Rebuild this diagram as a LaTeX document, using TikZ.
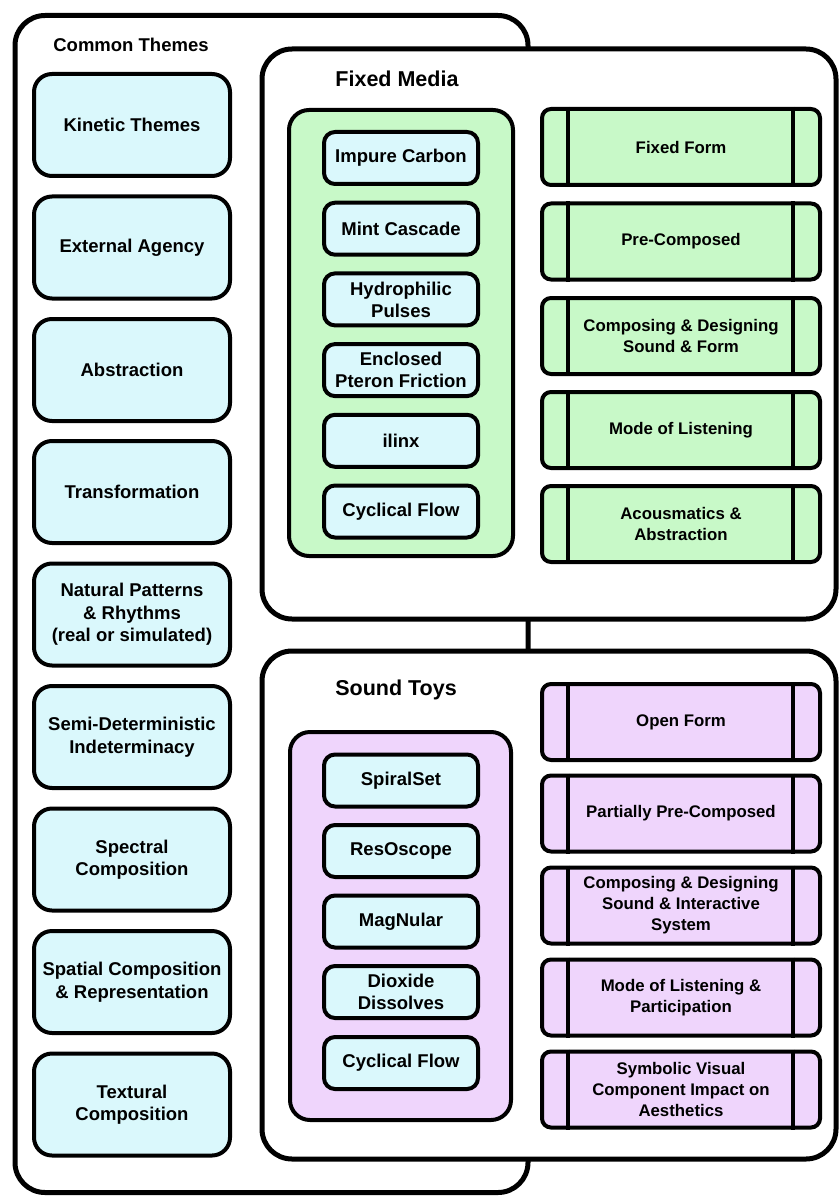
\documentclass[tikz,border=0pt]{standalone}
\usepackage{fontspec}
\setmainfont{Liberation Sans}
\definecolor{cyanfill}{HTML}{DAF8FC}
\definecolor{greenfill}{HTML}{C8F9C8}
\definecolor{purplefill}{HTML}{EFD5FC}
\tikzset{
  outerbox/.style={draw=black, fill=white, line width=5pt, rounded corners=30pt, inner sep=0pt},
  groupbox/.style={draw=black, line width=4pt, rounded corners=20pt, inner sep=0pt},
  themebox/.style={draw=black, fill=cyanfill, line width=4pt, rounded corners=18pt,
    minimum width=196pt, minimum height=102pt, align=center, inner sep=2pt,
    font=\fontsize{18.5}{22.5}\selectfont\bfseries},
  itembox/.style={draw=black, fill=cyanfill, line width=4pt, rounded corners=11pt,
    minimum width=154pt, minimum height=52pt, align=center, inner sep=2pt,
    font=\fontsize{18.5}{22}\selectfont\bfseries},
  formbox/.style={draw=black, line width=4pt, rounded corners=9pt,
    minimum width=278pt, minimum height=76pt, align=center, inner sep=2pt,
    font=\fontsize{16.8}{21}\selectfont\bfseries},
  titletext/.style={font=\fontsize{21.5}{24}\selectfont\bfseries, inner sep=0pt},
  divider/.style={line width=4pt}
}
\begin{document}
\begin{tikzpicture}[x=1pt,y=-1pt]
\useasboundingbox (0,0) rectangle (839,1198);
% Common Themes outer container
\node[outerbox, minimum width=513pt, minimum height=1177pt] (common) at (271.5,604) {};
\node[font=\fontsize{18.5}{22}\selectfont\bfseries, inner sep=0pt] (commontitle) at (131,45) {Common Themes};
% left column themes
\node[themebox] (t1) at (132,125) {Kinetic Themes};
\node[themebox] (t2) at (132,247.5) {External Agency};
\node[themebox] (t3) at (132,370) {Abstraction};
\node[themebox] (t4) at (132,492) {Transformation};
\node[themebox] (t5) at (132,614.5) {Natural Patterns\\ \& Rhythms\\ (real or simulated)};
\node[themebox] (t6) at (132,737) {Semi-Deterministic\\ Indeterminacy};
\node[themebox] (t7) at (132,859.5) {Spectral\\ Composition};
\node[themebox] (t8) at (132,982) {Spatial Composition\\ \& Representation};
\node[themebox] (t9) at (132,1104.5) {Textural\\ Composition};
% Fixed Media
\node[outerbox, minimum width=574pt, minimum height=570pt] (fixed) at (549,334) {};
\node[titletext] (fixedtitle) at (397,79) {Fixed Media};
\node[groupbox, fill=greenfill, minimum width=224pt, minimum height=446pt] (fgroup) at (401,333) {};
\node[itembox] (f1) at (401,158) {Impure Carbon};
\node[itembox] (f2) at (401,228.7) {Mint Cascade};
\node[itembox] (f3) at (401,299.4) {Hydrophilic\\ Pulses};
\node[itembox] (f4) at (401,370.1) {Enclosed\\ Pteron Friction};
\node[itembox] (f5) at (401,440.8) {ilinx};
\node[itembox] (f6) at (401,511.5) {Cyclical Flow};
\node[formbox, fill=greenfill] (g1) at (681,147) {Fixed Form};
\node[formbox, fill=greenfill] (g2) at (681,241.5) {Pre-Composed};
\node[formbox, fill=greenfill] (g3) at (681,336) {Composing \& Designing\\ Sound \& Form};
\node[formbox, fill=greenfill] (g4) at (681,430) {Mode of Listening};
\node[formbox, fill=greenfill] (g5) at (681,524) {Acousmatics \&\\ Abstraction};
% Sound Toys
\node[outerbox, minimum width=574pt, minimum height=508pt] (toys) at (549,905) {};
\node[titletext] (toystitle) at (396,690) {Sound Toys};
\node[groupbox, fill=purplefill, minimum width=221pt, minimum height=388pt] (pgroup) at (400.5,926) {};
\node[itembox] (s1) at (401,780.5) {SpiralSet};
\node[itembox] (s2) at (401,851) {ResOscope};
\node[itembox] (s3) at (401,921.5) {MagNular};
\node[itembox] (s4) at (401,992) {Dioxide\\ Dissolves};
\node[itembox] (s5) at (401,1063) {Cyclical Flow};
\node[formbox, fill=purplefill] (p1) at (681,722) {Open Form};
\node[formbox, fill=purplefill] (p2) at (681,813.5) {Partially Pre-Composed};
\node[formbox, fill=purplefill] (p3) at (681,905.5) {Composing \& Designing\\ Sound \& Interactive\\ System};
\node[formbox, fill=purplefill] (p4) at (681,997.5) {Mode of Listening \&\\ Participation};
\node[formbox, fill=purplefill] (p5) at (681,1089.5) {Symbolic Visual\\ Component Impact on\\ Aesthetics};
% vertical dividers in the form boxes
\foreach \n in {g1,g2,g3,g4,g5,p1,p2,p3,p4,p5} {
  \draw[divider] ([xshift=28pt]\n.north west) -- ([xshift=28pt]\n.south west);
  \draw[divider] ([xshift=-29pt]\n.north east) -- ([xshift=-29pt]\n.south east);
}
\end{tikzpicture}
\end{document}
